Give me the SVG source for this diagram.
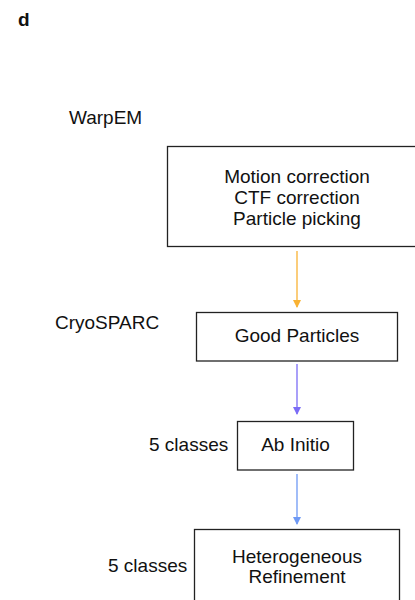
<svg xmlns="http://www.w3.org/2000/svg" width="415" height="600" viewBox="0 0 415 600">
<defs>
<style>
text{font-family:"Liberation Sans",Arial,sans-serif;font-size:19px;fill:#111}
.box{fill:#fff;stroke:#222;stroke-width:1.3}
.c{text-anchor:middle}
</style>
<marker id="ao" markerWidth="8" markerHeight="8" refX="7" refY="4" orient="auto" markerUnits="userSpaceOnUse"><path d="M0,0 L8,4 L0,8 Z" fill="#F9B233"/></marker>
<marker id="ap" markerWidth="8" markerHeight="8" refX="7" refY="4" orient="auto" markerUnits="userSpaceOnUse"><path d="M0,0 L8,4 L0,8 Z" fill="#7B6CF6"/></marker>
<marker id="ab" markerWidth="8" markerHeight="8" refX="7" refY="4" orient="auto" markerUnits="userSpaceOnUse"><path d="M0,0 L8,4 L0,8 Z" fill="#6E99F5"/></marker>
</defs>
<rect width="415" height="600" fill="#fff"/>
<text x="18" y="26" style="font-weight:bold;font-size:19px">d</text>
<text x="69" y="124">WarpEM</text>
<text x="55" y="329">CryoSPARC</text>
<text x="149" y="451">5 classes</text>
<text x="108" y="572">5 classes</text>
<g id="connectors">
<line x1="297" y1="251" x2="297" y2="307" stroke="#F9B233" stroke-width="1.3" marker-end="url(#ao)"/>
<line x1="297" y1="364" x2="297" y2="414" stroke="#7B6CF6" stroke-width="1.3" marker-end="url(#ap)"/>
<line x1="297" y1="474" x2="297" y2="524" stroke="#6E99F5" stroke-width="1.3" marker-end="url(#ab)"/>
</g>
<g id="warp">
<rect class="box" x="167.5" y="146.5" width="260" height="100"/>
<text class="c" x="297" y="183">Motion correction</text>
<text class="c" x="297" y="204">CTF correction</text>
<text class="c" x="297" y="225">Particle picking</text>
</g>
<g id="good">
<rect class="box" x="196.5" y="312.5" width="201" height="48.5"/>
<text class="c" x="297" y="342">Good Particles</text>
</g>
<g id="abinitio">
<rect class="box" x="237.5" y="421.5" width="116" height="48.5"/>
<text class="c" x="295.5" y="451">Ab Initio</text>
</g>
<g id="hetero">
<rect class="box" x="194.5" y="529.5" width="205" height="90"/>
<text class="c" x="297" y="563">Heterogeneous</text>
<text class="c" x="297" y="583">Refinement</text>
</g>
</svg>
